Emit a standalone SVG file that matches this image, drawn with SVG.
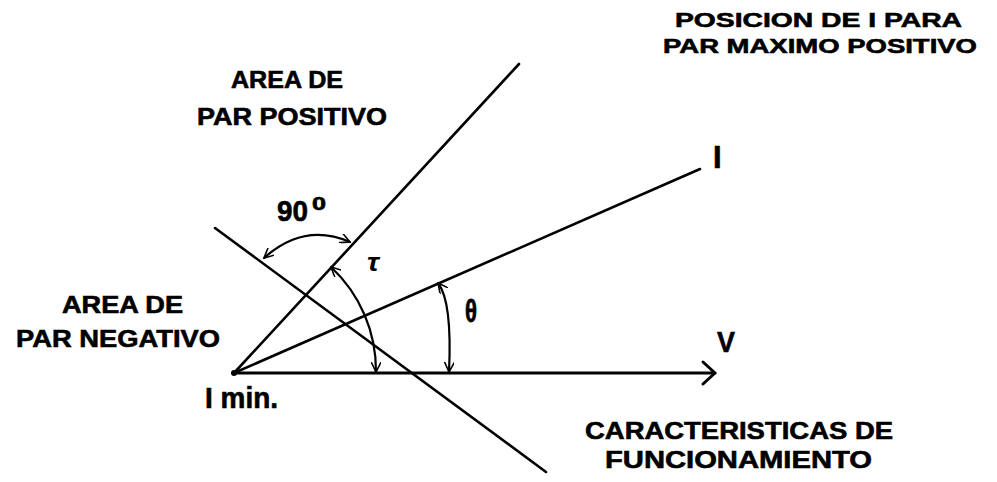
<svg xmlns="http://www.w3.org/2000/svg" width="997" height="482" viewBox="0 0 997 482">
<defs>
<style>
.t{font-family:"Liberation Sans",Arial,sans-serif;font-weight:bold;fill:#000;stroke:#000;stroke-width:0.6}
.ln{stroke:#000;fill:none;stroke-linecap:round;stroke-linejoin:round}
</style>
<marker id="ah" viewBox="0 0 10 10" refX="10" refY="5" markerUnits="userSpaceOnUse" markerWidth="10" markerHeight="10" orient="auto-start-reverse">
<path d="M0,0 L10,5 L0,10" fill="none" stroke="#000" stroke-width="1.6"/>
</marker>
</defs>
<rect width="997" height="482" fill="#fff"/>
<g id="connectors">
<path class="ln" d="M234 373 L715 373" stroke-width="3"/>
<path class="ln" d="M703 362 L715 373 L703 384" stroke-width="3"/>
<path class="ln" d="M234 373 L519 64" stroke-width="2.6"/>
<path class="ln" d="M234 373 L700 169" stroke-width="2.6"/>
<path class="ln" d="M215 228 L546 472" stroke-width="2.6"/>
<path class="ln" d="M264 258 Q304 222 350 242" stroke-width="2.2" marker-start="url(#ah)" marker-end="url(#ah)"/>
<path class="ln" d="M331 267 A142 142 0 0 1 376 372" stroke-width="2.2" marker-start="url(#ah)" marker-end="url(#ah)"/>
<path class="ln" d="M438 283 C448 296 451 330 449 372" stroke-width="2.2" marker-start="url(#ah)" marker-end="url(#ah)"/>
<circle cx="234" cy="373" r="3" fill="#000"/>
</g>
<g id="pos-area"><text class="t" font-size="24" x="231" y="88" textLength="112" lengthAdjust="spacingAndGlyphs">AREA DE</text><text class="t" font-size="24" x="197" y="125" textLength="190" lengthAdjust="spacingAndGlyphs">PAR POSITIVO</text></g>
<g id="max-pos"><text class="t" font-size="21" x="675" y="27" textLength="287" lengthAdjust="spacingAndGlyphs">POSICION DE I PARA</text><text class="t" font-size="21" x="663" y="53" textLength="314" lengthAdjust="spacingAndGlyphs">PAR MAXIMO POSITIVO</text></g>
<g id="neg-area"><text class="t" font-size="24" x="62" y="313" textLength="121" lengthAdjust="spacingAndGlyphs">AREA DE</text><text class="t" font-size="24" x="16" y="347" textLength="204" lengthAdjust="spacingAndGlyphs">PAR NEGATIVO</text></g>
<g id="imin"><text class="t" font-size="29" x="205" y="408" textLength="73" lengthAdjust="spacingAndGlyphs">I min.</text></g>
<g id="caract"><text class="t" font-size="24" x="585" y="439" textLength="308" lengthAdjust="spacingAndGlyphs">CARACTERISTICAS DE</text><text class="t" font-size="24" x="605" y="468" textLength="267" lengthAdjust="spacingAndGlyphs">FUNCIONAMIENTO</text></g>
<g id="angle90"><text class="t" font-size="29" x="277" y="221" textLength="31" lengthAdjust="spacingAndGlyphs">90</text><text class="t" font-size="18" x="312" y="210" textLength="14" lengthAdjust="spacingAndGlyphs">0</text></g>
<g id="labelV"><text class="t" font-size="29" x="717" y="352" textLength="18" lengthAdjust="spacingAndGlyphs">V</text></g>
<g id="labelI"><text class="t" font-size="31" x="713" y="168">I</text></g>
<g id="theta"><text class="t" font-size="24" x="465" y="322" textLength="12" lengthAdjust="spacingAndGlyphs" transform="translate(471 322) scale(1 1.3) translate(-471 -322)">θ</text></g>
<g id="tau"><text font-family="Liberation Sans,Arial,sans-serif" font-style="italic" font-weight="bold" font-size="26" x="367" y="271" textLength="12" lengthAdjust="spacingAndGlyphs">τ</text></g>
</svg>
